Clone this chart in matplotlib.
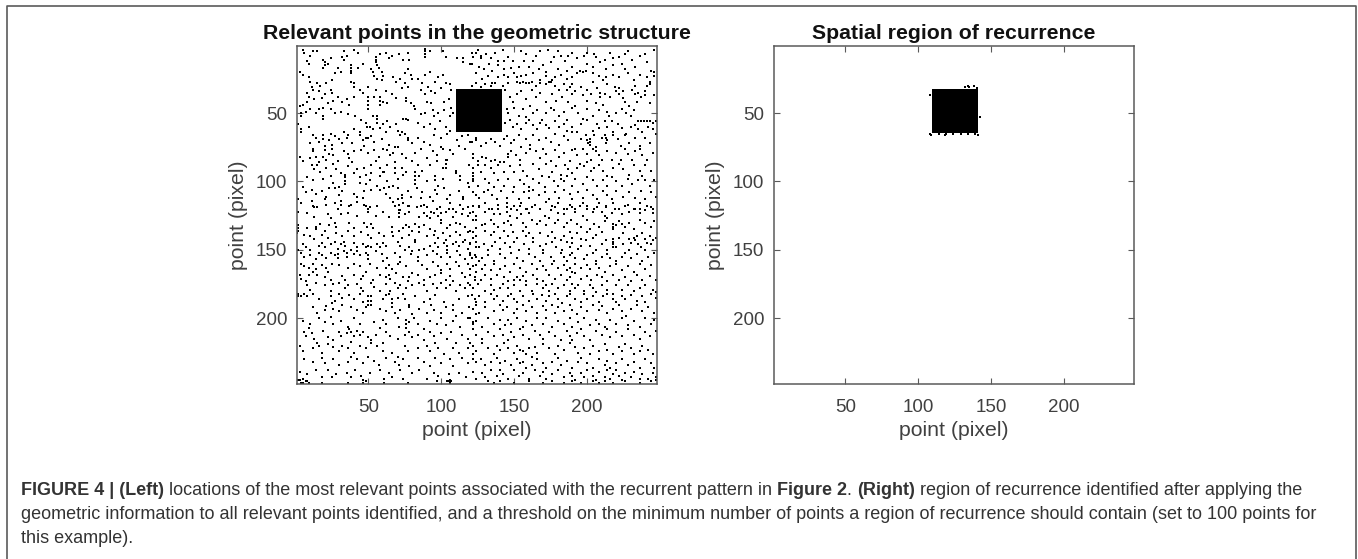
import matplotlib
matplotlib.use('Agg')
import matplotlib.pyplot as plt

W, H = 1358, 559

ticks = [50, 100, 150, 200]

# black block, the same recurrent region on both panels
block_left_x = [110, 141.5]
block_left_y = [32.5, 64]
block_right_x = [109.5, 141]
block_right_y = [32.5, 64.5]

# ragged pixels round the block on the right panel
edge_x = [108, 132, 134, 135, 138, 140, 142, 108, 109, 114, 118, 119, 124, 129, 134, 139, 141]
edge_y = [37, 31, 30.5, 31, 30.5, 31.5, 53, 65, 66, 65, 66, 65, 65, 65, 65.5, 65, 66]

# relevant points, upper left part
upper_left = [
    (5,4),(6,6),(12,5),(15,5),(10,8),(8,12),(9,14),(19,11),(20,13),(20,15),(19,17),(24,10),(22,14),(33,5),(35,8),(32,9),(40,4),(43,6),(33,11),(38,15),(38,17),(38,19),(38,21),
    (55,9),(55,11),(55,13),(56,15),(58,7),(62,6),(64,10),(66,8),(71,7),(74,11),(77,6),(78,11),(89,3),(89,5),(89,7),(89,9),(92,5),(101,5),(103,9),(111,10),(115,10),(115,13),(122,9),(124,6),(127,8),(120,14),
    (53,20),(54,23),(56,25),(59,20),(60,23),(59,26),(52,18),(57,17),(43,17),(46,14),(29,17),(27,21),(31,20),(3,20),(5,22),(9,24),(10,27),(11,31),(15,28),(17,30),(21,28),(25,26),
    (38,27),(40,28),(40,31),(75,21),(77,18),(79,22),(80,25),(72,25),(75,28),(77,31),(73,32),(69,27),(67,24),(84,25),(87,28),(91,31),(96,27),(98,24),(101,22),(103,28),(106,29),(107,33),(86,33),(89,36),(93,34),(96,35),(100,32),(89,22),(92,20),
    (8,35),(12,33),(16,34),(20,36),(24,33),(25,35),(29,38),(9,38),(8,42),(5,44),(13,40),(18,39),(22,43),(26,41),(32,42),(35,40),(37,44),(40,38),(44,33),(46,35),(50,31),(55,33),(62,34),
    (50,38),(50,41),(50,44),(50,47),(54,38),(58,38),(58,41),(58,44),(60,42),(63,43),(66,36),(69,39),(76,39),(76,41),(79,43),(81,45),(90,42),(93,43),(102,42),(105,40),(107,46),(82,47),(86,51),(89,50),(94,48),(95,52),(98,50),(102,48),(106,52),(108,50),
    (3,45),(4,50),(4,52),(7,49),(10,47),(14,50),(16,47),(19,46),(19,52),(19,54),(24,47),(27,50),(31,49),(36,51),(41,52),(45,55),(48,57),(53,52),(56,52),(56,54),(56,57),(60,58),(63,56),(69,58),(74,54),(76,54),(77,55),
    (2,58),(4,62),(4,64),(9,60),(12,66),(14,68),(19,66),(19,69),(24,65),(27,67),(33,64),(36,66),(40,62),(44,64),(49,60),(51,60),(53,62),(58,61),(62,64),(65,60),(70,63),(84,57),(88,60),(92,58),(96,62),(99,56),(103,60),(106,63),(95,66),(100,68),(104,65),
    (10,72),(12,76),(12,78),(16,71),(20,74),(20,77),(23,70),(25,73),(25,76),(30,69),(32,72),(35,68),(39,72),(44,66),(46,70),(48,68),(50,68),(52,67),(54,71),(59,69),(64,73),(68,75),(72,66),(73,64),(75,65),(77,68),(77,70),(80,72),(84,68),(88,71),(92,73),(100,75),(106,77),(111,70),(114,67),(118,66),(120,71),(124,68),
    (3,82),(5,85),(10,83),(14,82),(16,86),(19,82),(21,84),(23,80),(26,81),(29,85),(33,78),(36,80),(37,83),(40,78),(45,77),(47,74),(50,79),(54,77),(57,82),(60,76),(63,77),(65,81),(67,79),(70,75),(73,80),(76,83),(80,85),(82,79),(86,76),(90,83),(94,78),(97,81),(101,76),(104,84),(108,80),(112,74),(116,76),(122,80),(122,83),
    (11,88),(13,91),(15,88),(17,93),(21,90),(26,87),(28,91),(31,94),(36,89),(39,86),(42,91),(47,90),(52,88),(55,85),(58,90),(60,93),(63,88),(68,86),(68,90),(68,94),(73,90),(76,93),(84,88),(87,92),(92,88),(97,85),(101,90),(103,84),(103,87),(103,90),(110,92),(119,88),(125,88),
    (8,97),(12,99),(19,98),(24,96),(26,101),(27,105),(34,95),(34,97),(34,100),(34,102),(30,104),(40,94),(44,97),(48,95),(44,101),(48,102),(51,99),(52,94),(58,96),(61,93),(63,100),(67,103),(70,98),(74,95),(82,93),(82,96),(82,99),(82,102),(85,96),(90,100),(96,96),(96,99),(98,103),(101,98),(110,94),(113,96),(113,99),(118,101),(122,94),(122,96),(122,98),(122,100),
    (5,104),(7,108),(11,106),(14,109),(18,107),(21,111),(23,105),(30,110),(32,107),(40,109),(42,111),(47,107),(52,106),(56,103),(58,106),(61,105),(62,109),(64,104),(70,105),(73,110),(73,112),(77,107),(79,111),(83,105),(87,108),(92,111),(96,106),(97,109),(102,105),(106,110),(112,107),(115,111),(115,113),(119,104),(124,110),
    (2,113),(4,116),(11,114),(12,118),(15,119),(20,113),(27,116),(29,120),(31,114),(31,117),(38,117),(42,115),(46,112),(48,118),(50,120),(65,112),(67,115),(68,118),(70,113),(72,121),(74,116),(78,118),(86,112),(88,117),(94,114),(99,119),(104,113),(106,116),(108,120),(113,117),(118,119),(122,118),
]

# upper right part
upper_right = [
    (121,6),(125,4),(127,10),(131,7),(134,10),(137,6),(139,12),(142,4),(143,12),(146,9),(148,17),(155,5),(157,12),(158,7),(165,8),(168,5),(173,4),(177,9),(180,5),(182,8),(187,8),(190,6),(193,10),(198,8),(200,6),(205,7),(206,9),(212,11),(216,6),(218,10),(222,9),(226,7),(228,5),(236,8),(240,7),(246,4),
    (121,14),(126,16),(129,18),(133,14),(135,19),(139,15),(143,18),(149,12),(153,16),(160,16),(163,12),(167,18),(170,15),(172,20),(175,13),(180,18),(185,12),(186,19),(190,16),(195,19),(200,14),(204,16),(209,13),(213,18),(218,15),(224,14),(226,18),(231,11),(233,16),(241,13),(244,19),(246,20),
    (124,21),(128,25),(132,23),(135,28),(139,24),(143,22),(146,24),(150,21),(152,24),(155,23),(158,22),(163,21),(168,26),(172,23),(175,27),(178,24),(182,22),(186,25),(190,24),(193,21),(197,20),(199,19),(204,21),(208,23),(211,26),(213,24),(218,22),(222,24),(228,21),(232,26),(236,22),(241,24),(246,23),
    (121,30),(124,28),(127,31),(130,29),(134,30),(137,28),(142,30),(146,28),(152,27),(154,28),(156,27),(158,28),(160,28),(162,27),(165,30),(168,28),(172,29),(174,27),(176,26),(178,30),(181,33),(184,29),(186,33),(188,31),(190,29),(192,34),(196,31),(200,33),(204,27),(207,32),(209,35),(214,29),(219,31),(222,32),(225,34),(231,33),(233,30),(235,35),(241,30),(243,27),(243,29),
    (144,33),(147,38),(149,42),(152,36),(155,34),(158,40),(162,33),(165,38),(168,35),(172,42),(176,36),(179,41),(183,38),(187,42),(190,36),(192,45),(197,37),(200,41),(203,36),(206,43),(209,38),(212,36),(216,38),(220,34),(222,36),(225,39),(226,42),(229,45),(233,36),(234,42),(237,38),(240,34),(240,37),(243,43),(246,37),
    (145,47),(146,50),(150,46),(153,52),(156,47),(158,53),(161,45),(163,50),(166,48),(169,55),(172,50),(175,46),(177,48),(181,52),(184,49),(186,55),(190,46),(194,50),(197,54),(200,47),(204,52),(208,48),(211,44),(214,49),(215,52),(217,56),(220,50),(224,47),(227,50),(230,52),(232,48),(235,56),(237,56),(239,56),(241,56),(243,56),(245,57),(247,56),
    (144,57),(147,55),(149,60),(152,58),(155,62),(158,57),(160,55),(163,59),(166,62),(168,57),(172,59),(174,61),(178,56),(181,60),(184,58),(186,63),(190,60),(193,64),(196,58),(200,55),(204,63),(207,58),(208,61),(212,56),(214,60),(218,64),(221,58),(224,61),(227,65),(230,60),(233,59),(235,62),(238,64),(242,60),(245,62),
    (145,67),(148,72),(150,70),(153,66),(155,75),(158,69),(161,73),(163,66),(167,70),(170,76),(172,68),(175,71),(178,65),(181,73),(184,67),(187,70),(190,64),(192,76),(196,69),(199,66),(200,70),(201,72),(205,66),(206,75),(210,68),(213,72),(218,66),(221,69),(223,74),(226,66),(229,72),(233,68),(236,74),(240,68),(243,72),(247,65),
    (121,71),(124,70),(127,74),(131,72),(134,69),(137,71),(140,74),(143,69),(212,66),(213,68),(214,70),(202,69),(202,71),(202,73),
    (125,85),(125,88),(128,82),(131,83),(134,85),(137,84),(140,86),(143,86),(146,82),(146,80),(148,78),(151,81),(154,84),(158,79),(161,76),(165,78),(168,83),(172,80),(175,85),(178,77),(181,82),(184,79),(188,85),(190,77),(193,81),(197,76),(200,80),(203,84),(204,76),(206,78),(208,81),(210,84),(214,78),(217,84),(220,79),(223,84),(226,76),(228,80),(231,84),(233,78),(236,76),(238,81),(241,84),(245,79),
    (122,90),(127,93),(130,88),(134,90),(136,94),(139,88),(143,93),(147,89),(150,93),(154,88),(156,92),(159,96),(163,87),(167,91),(169,96),(172,87),(176,93),(179,89),(182,95),(185,88),(187,91),(190,94),(193,90),(195,87),(198,89),(200,86),(203,92),(205,90),(208,88),(211,92),(214,96),(218,90),(222,87),(225,91),(229,95),(232,88),(236,92),(240,88),(244,92),
    (122,99),(125,103),(130,98),(133,101),(136,104),(139,99),(143,103),(146,98),(150,104),(154,99),(157,102),(160,104),(160,107),(163,98),(167,101),(171,104),(174,97),(177,100),(180,103),(182,98),(184,100),(186,96),(190,103),(192,98),(197,102),(200,97),(204,99),(207,103),(211,99),(214,103),(217,97),(220,100),(224,103),(228,98),(231,102),(235,99),(238,96),(240,99),(243,103),(246,99),
    (122,108),(126,112),(129,108),(132,106),(135,110),(138,113),(141,107),(145,112),(149,108),(153,113),(157,108),(160,112),(163,106),(167,110),(171,108),(174,113),(178,108),(181,112),(184,106),(188,109),(190,113),(194,108),(197,112),(200,106),(204,110),(207,113),(211,107),(214,110),(217,113),(220,107),(225,111),(229,108),(233,112),(237,107),(240,113),(244,108),(247,111),
    (126,118),(130,116),(135,120),(139,117),(145,116),(148,120),(150,118),(155,116),(159,120),(164,117),(168,120),(172,115),(176,118),(180,116),(184,120),(188,117),(192,120),(197,116),(200,118),(205,120),(208,116),(213,118),(218,116),(222,120),(228,117),(232,120),(236,116),(241,118),(245,120),
]

# lower left part
lower_left = [
    (13,119),(21,117),(37,118),(47,117),(51,119),(56,118),(71,117),(77,118),(83,119),(86,118),(90,119),(93,122),(97,120),(100,123),(105,120),(110,122),(115,120),(120,123),
    (2,122),(8,123),(13,126),(17,131),(22,124),(24,127),(31,124),(36,123),(42,125),(50,122),(55,125),(60,122),(64,126),(71,121),(71,123),(71,126),(75,124),(78,122),(85,126),(88,123),(90,125),(92,127),(95,123),(98,125),(100,128),(103,122),(108,126),(114,124),(118,125),(122,128),
    (2,132),(2,134),(2,136),(1,138),(8,134),(14,133),(14,135),(20,136),(23,132),(27,130),(28,133),(37,130),(40,134),(47,130),(49,133),(52,131),(53,134),(66,133),(71,136),(74,134),(76,132),(78,133),(80,136),(82,131),(85,133),(88,132),(92,135),(96,136),(100,130),(104,134),(106,132),(110,130),(113,131),(116,133),(120,136),(124,134),
    (6,139),(10,140),(13,142),(18,139),(22,141),(28,138),(32,140),(36,136),(40,140),(45,137),(50,139),(52,141),(57,138),(61,140),(66,137),(67,140),(73,141),(78,139),(82,143),(85,137),(90,140),(95,139),(98,141),(101,138),(103,143),(106,140),(110,137),(113,139),(116,143),(118,137),(122,141),
    (5,146),(7,148),(10,150),(16,147),(18,145),(20,148),(24,146),(27,144),(29,149),(31,146),(33,144),(34,147),(40,145),(42,148),(46,146),(48,148),(50,147),(52,148),(56,146),(58,148),(60,145),(62,147),(70,144),(72,147),(78,148),(82,144),(85,150),(88,149),(92,147),(96,145),(98,148),(102,145),(104,147),(104,150),(108,146),(110,144),(112,147),(115,144),(118,149),(120,145),(124,148),
    (2,150),(4,152),(6,155),(10,154),(14,157),(16,152),(18,154),(21,156),(24,152),(27,154),(29,153),(29,156),(33,151),(35,152),(35,155),(38,150),(40,153),(42,151),(44,154),(48,152),(50,154),(50,157),(55,151),(59,153),(63,156),(68,152),(72,155),(75,150),(79,153),(80,151),(84,155),(90,154),(94,151),(97,153),(100,155),(104,152),(106,155),(111,151),(113,154),(116,157),(120,152),(124,155),
    (4,160),(6,162),(9,163),(12,160),(14,164),(18,161),(21,163),(25,160),(30,161),(36,163),(40,160),(44,162),(48,166),(51,160),(56,163),(60,158),(62,163),(64,161),(66,164),(70,160),(72,159),(76,162),(84,158),(87,161),(90,164),(94,159),(98,162),(100,165),(104,160),(106,164),(110,159),(112,162),(118,160),(120,164),(124,161),
    (3,168),(4,171),(7,173),(9,168),(12,166),(15,168),(20,170),(22,166),(24,172),(32,169),(34,172),(40,168),(45,171),(46,169),(53,172),(58,168),(62,170),(64,168),(65,171),(69,167),(74,170),(77,173),(78,170),(80,167),(84,168),(88,172),(92,170),(96,168),(100,167),(103,172),(106,169),(108,173),(114,167),(116,170),(120,168),(123,172),
    (8,176),(10,179),(14,174),(20,176),(24,180),(26,175),(30,174),(34,178),(36,176),(42,175),(45,178),(46,180),(52,174),(54,177),(58,180),(62,175),(65,180),(68,174),(70,178),(72,176),(74,182),(76,178),(80,176),(85,174),(88,176),(90,180),(94,175),(97,178),(100,174),(103,178),(106,176),(110,180),(113,176),(116,178),(118,174),(122,178),
    (2,182),(2,184),(4,184),(6,182),(8,184),(12,182),(16,186),(24,184),(27,187),(30,182),(32,185),(37,183),(40,186),(44,182),(46,188),(50,184),(50,187),(50,190),(52,184),(52,187),(52,190),(60,186),(62,183),(64,182),(66,186),(66,189),(70,185),(74,182),(75,186),(78,190),(82,184),(88,188),(92,186),(96,183),(102,188),(108,190),(112,186),(118,184),(124,188),
    (12,192),(15,196),(20,194),(21,191),(25,189),(26,193),(30,195),(32,190),(38,192),(42,194),(46,196),(48,192),(58,193),(62,195),(66,192),(68,196),(72,194),(78,192),(80,197),(85,193),(90,196),(93,190),(95,194),(100,196),(103,192),(108,194),(110,198),(114,196),(119,192),(124,197),
    (5,202),(9,207),(10,204),(16,200),(20,203),(24,199),(26,204),(31,202),(36,206),(40,200),(44,204),(54,203),(58,207),(60,201),(62,204),(70,200),(71,206),(76,201),(76,204),(76,207),(78,203),(81,200),(84,204),(88,208),(92,202),(97,204),(100,200),(103,205),(108,202),(113,206),(118,200),(122,203),
    (6,210),(7,213),(11,211),(13,215),(15,218),(19,209),(22,214),(26,216),(30,210),(31,213),(35,211),(37,208),(38,210),(40,213),(42,209),(44,212),(46,210),(50,214),(52,216),(55,212),(60,218),(62,210),(65,213),(70,215),(75,212),(78,210),(80,214),(84,212),(88,216),(92,210),(95,213),(96,218),(100,211),(104,215),(107,210),(110,218),(114,212),(118,215),(120,218),
    (3,220),(5,224),(12,222),(16,220),(18,225),(22,219),(26,221),(30,224),(32,220),(36,222),(38,217),(40,225),(44,220),(48,222),(52,218),(56,220),(60,224),(66,225),(70,228),(75,220),(77,224),(84,222),(90,220),(92,224),(98,222),(102,226),(108,222),(112,225),(118,222),(122,226),
    (6,230),(12,232),(18,229),(20,233),(26,230),(30,234),(36,232),(38,228),(42,230),(46,233),(50,228),(54,231),(57,234),(62,229),(68,232),(71,234),(74,230),(78,235),(84,229),(88,232),(92,235),(96,229),(100,233),(106,230),(108,235),(114,229),(118,233),(122,230),
    (3,239),(5,244),(8,241),(14,238),(18,243),(22,238),(25,243),(28,241),(35,240),(38,243),(41,238),(45,242),(46,245),(51,240),(58,238),(61,244),(64,240),(66,243),(72,238),(74,244),(80,240),(85,238),(90,244),(95,240),(97,246),(98,242),(105,241),(106,245),(112,240),(117,243),(122,239),(124,244),
    (2,245),(3,245),(4,247),(5,247),(7,246),(8,246),(9,247),(18,247),(36,247),(46,247),(48,246),(61,247),(77,247),(104,246),(105,246),(106,247),(107,246),
]

# lower right part
lower_right = [
    (122,122),(124,125),(126,119),(130,122),(133,120),(136,124),(139,120),(140,124),(145,119),(145,122),(147,125),(152,121),(154,118),(155,124),(158,120),(160,123),(162,119),(168,120),(171,125),(175,121),(178,119),(180,123),(184,124),(186,120),(190,119),(192,122),(195,118),(197,125),(200,120),(204,122),(207,119),(210,122),(212,125),(213,119),(217,123),(219,120),(224,124),(226,118),(229,122),(233,120),(236,120),(236,123),(240,121),(244,119),(245,123),
    (124,128),(128,132),(130,131),(134,128),(136,131),(139,133),(143,130),(146,129),(148,132),(152,127),(156,130),(158,133),(162,128),(166,131),(168,129),(172,132),(174,127),(178,130),(180,128),(184,133),(186,130),(189,128),(193,131),(196,133),(200,128),(202,135),(205,131),(208,133),(212,129),(214,127),(218,131),(218,133),(218,135),(220,132),(222,129),(224,131),(226,133),(229,130),(232,135),(236,128),(240,130),(244,133),(246,129),
    (122,137),(124,140),(130,136),(134,139),(136,137),(140,141),(143,136),(146,140),(149,137),(152,141),(156,136),(158,140),(160,138),(163,141),(168,138),(173,140),(176,137),(178,141),(182,143),(184,140),(188,137),(190,141),(193,138),(196,142),(200,137),(204,141),(206,139),(210,137),(213,143),(218,142),(218,144),(218,146),(218,148),(222,141),(225,138),(229,142),(230,145),(232,141),(234,140),(238,138),(240,142),(241,145),(243,140),(245,143),(247,141),
    (120,146),(124,144),(126,148),(129,146),(132,150),(135,147),(137,144),(140,149),(144,145),(147,148),(150,144),(153,150),(157,146),(160,149),(163,144),(168,147),(170,150),(172,146),(176,144),(179,148),(183,150),(186,144),(188,148),(190,145),(194,149),(196,147),(199,143),(202,147),(206,150),(210,146),(214,150),(220,148),(225,146),(229,150),(233,143),(235,146),(237,148),(240,150),(244,146),
    (120,154),(121,156),(123,154),(126,158),(128,156),(132,154),(136,158),(140,153),(144,156),(148,152),(152,156),(156,158),(160,153),(164,155),(168,158),(170,152),(175,155),(177,158),(182,152),(184,155),(186,158),(188,154),(190,152),(192,156),(198,157),(200,154),(204,152),(206,158),(210,155),(214,153),(216,156),(220,158),(224,155),(226,152),(230,156),(234,153),(238,158),(242,155),(246,152),
    (122,162),(124,166),(128,164),(130,161),(134,165),(136,160),(140,164),(144,162),(147,166),(150,160),(154,163),(158,166),(162,160),(166,164),(170,162),(172,165),(176,160),(180,163),(184,161),(186,165),(188,163),(190,166),(192,160),(196,163),(200,161),(202,164),(206,160),(208,163),(212,166),(216,162),(220,160),(224,165),(228,162),(232,166),(236,160),(240,164),(244,161),
    (120,168),(123,170),(127,172),(130,168),(134,171),(138,168),(143,170),(146,173),(150,172),(152,170),(154,172),(156,169),(158,173),(163,168),(166,171),(170,173),(174,168),(178,171),(182,168),(186,172),(188,170),(192,167),(196,171),(200,169),(203,172),(207,168),(210,170),(214,173),(218,168),(222,172),(226,170),(230,173),(234,168),(238,172),(243,169),(247,172),
    (120,176),(122,178),(125,175),(130,180),(134,176),(136,179),(140,178),(142,175),(146,178),(150,176),(154,180),(158,176),(162,180),(166,175),(170,178),(172,176),(174,180),(176,175),(180,178),(184,176),(188,180),(190,175),(192,178),(194,176),(198,180),(202,176),(204,178),(206,181),(210,176),(214,179),(218,182),(220,176),(224,179),(228,176),(232,180),(236,178),(240,176),(245,179),(247,181),
    (121,183),(123,186),(126,184),(130,188),(134,182),(136,186),(138,184),(142,187),(146,184),(148,182),(150,186),(152,188),(156,184),(160,187),(163,182),(166,186),(169,183),(172,187),(174,184),(178,182),(180,186),(183,189),(186,184),(188,182),(192,186),(196,188),(198,182),(200,186),(204,184),(208,188),(211,184),(214,182),(218,186),(220,188),(224,184),(226,186),(230,183),(234,187),(238,184),(240,188),(244,182),(247,185),
    (122,193),(124,190),(126,196),(130,192),(136,195),(140,190),(142,194),(145,192),(150,196),(152,193),(156,190),(158,195),(162,192),(166,196),(170,191),(172,194),(176,190),(178,196),(180,192),(184,195),(188,190),(190,194),(193,197),(196,192),(200,195),(204,190),(208,194),(210,191),(214,196),(218,193),(222,190),(224,195),(227,198),(230,193),(234,190),(238,195),(242,192),(246,196),
    (120,200),(122,204),(124,202),(128,206),(132,200),(136,204),(140,201),(144,205),(146,201),(148,204),(152,200),(156,206),(158,202),(162,205),(166,200),(170,204),(172,200),(176,206),(180,202),(184,204),(188,200),(190,206),(194,203),(198,200),(202,205),(206,201),(208,204),(212,206),(216,201),(220,204),(224,200),(228,205),(232,202),(236,206),(240,200),(244,204),(246,201),
    (122,208),(124,212),(128,215),(132,210),(136,213),(140,208),(142,212),(146,216),(148,210),(150,214),(154,208),(156,212),(160,215),(164,209),(168,212),(170,215),(174,210),(178,213),(182,216),(186,209),(188,213),(190,216),(193,211),(196,208),(198,213),(202,216),(206,209),(210,212),(214,208),(216,214),(220,210),(224,213),(228,208),(232,212),(236,215),(240,210),(243,213),(247,209),
    (122,220),(124,224),(128,218),(132,222),(136,226),(138,220),(140,223),(143,218),(146,222),(150,225),(152,220),(154,223),(156,224),(158,226),(160,222),(162,228),(164,221),(166,225),(170,219),(174,222),(178,226),(180,220),(184,223),(188,218),(192,221),(194,225),(198,222),(202,226),(204,220),(208,224),(212,219),(214,223),(218,226),(222,221),(224,224),(226,219),(230,222),(232,226),(236,224),(238,220),(242,223),(245,226),
    (124,232),(127,230),(130,234),(134,232),(138,229),(140,233),(144,231),(148,234),(152,230),(154,233),(156,232),(158,236),(162,234),(166,230),(170,233),(172,236),(176,232),(180,229),(182,234),(186,231),(190,236),(194,232),(196,229),(200,233),(204,236),(208,230),(212,234),(214,231),(216,236),(220,233),(224,230),(228,234),(232,232),(236,236),(240,230),(244,233),(246,236),
    (128,240),(130,243),(134,238),(138,242),(140,238),(142,241),(146,244),(150,238),(153,242),(156,240),(160,244),(164,238),(168,242),(170,239),(172,244),(176,241),(180,238),(184,243),(188,240),(190,242),(192,245),(196,240),(198,243),(200,238),(204,242),(206,245),(208,239),(212,243),(214,238),(216,244),(218,241),(220,238),(222,242),(224,245),(226,240),(230,243),(232,239),(236,244),(238,241),(242,244),(245,240),(247,243),
    (132,246),(136,247),(140,246),(150,247),(160,246),(170,247),(176,246),(184,247),(190,246),(196,247),(204,246),(208,247),(212,246),(218,247),(226,246),(236,247),(244,246),(247,245),
]

relevant = upper_left + upper_right + lower_left + lower_right
relevant_x = [p[0] for p in relevant]
relevant_y = [p[1] for p in relevant]

TEXT = '#404040'
EDGE = '#5a5a5a'
plt.rcParams['font.family'] = ['Liberation Sans', 'DejaVu Sans']

fig = plt.figure(figsize=(W / 100, H / 100), dpi=100)


def make_axes(left, title):
    ax = fig.add_axes([left / W, 1 - 384 / H, 360 / W, 338 / H])
    ax.set_xlim(1, 248)
    ax.set_ylim(248, 1)
    ax.set_xticks(ticks)
    ax.set_yticks(ticks)
    ax.tick_params(direction='in', top=True, right=True, length=4, width=0.8,
                   color=EDGE, labelcolor=TEXT, labelsize=13.5)
    ax.tick_params(axis='x', pad=11)
    ax.tick_params(axis='y', pad=7)
    for s in ax.spines.values():
        s.set_color(EDGE)
        s.set_linewidth(1.1)
    ax.set_title(title, fontsize=15.3, fontweight='bold', color='#111111', pad=5)
    ax.set_xlabel('point (pixel)', fontsize=15.3, color=TEXT)
    ax.set_ylabel('point (pixel)', fontsize=15.3, color=TEXT)
    ax.xaxis.set_label_coords(0.5, -0.108)
    ax.yaxis.set_label_coords(-0.136, 0.5)
    return ax


ax1 = make_axes(297, 'Relevant points in the geometric structure')
ax1.plot(relevant_x, relevant_y, 's', ms=1.5, mew=0, color='black')
ax1.fill_between(block_left_x, block_left_y[0], block_left_y[1], color='black', lw=0)

ax2 = make_axes(774, 'Spatial region of recurrence')
ax2.fill_between(block_right_x, block_right_y[0], block_right_y[1], color='black', lw=0)
ax2.plot(edge_x, edge_y, 's', ms=1.6, mew=0, color='black')

# page frame of the figure
frame_x = [6.5, 6.5, 1356, 1356]
frame_y = [559, 6, 6, 559]
fig.add_artist(plt.Line2D([v / W for v in frame_x], [1 - v / H for v in frame_y],
                          color=EDGE, lw=1.2, transform=fig.transFigure))

caption = [
    [('FIGURE 4 | (Left)', True), (' locations of the most relevant points associated with the recurrent pattern in ', False),
     ('Figure 2', True), ('. ', False), ('(Right)', True), (' region of recurrence identified after applying the', False)],
    [('geometric information to all relevant points identified, and a threshold on the minimum number of points a region of recurrence should contain (set to 100 points for', False)],
    [('this example).', False)],
]
caption_base = [495, 519, 543]

renderer = fig.canvas.get_renderer()
for parts, base in zip(caption, caption_base):
    x = 21
    for s, bold in parts:
        t = fig.text(x / W, 1 - base / H, s, fontsize=13, color='#333333',
                     fontweight='bold' if bold else 'normal', va='baseline', ha='left')
        # spaces at the ends are not counted by the extent, so measure with a stand-in
        t.set_text(s.replace(' ', '\u00a0'))
        x += t.get_window_extent(renderer).width

fig.savefig('out.png', dpi=100)
